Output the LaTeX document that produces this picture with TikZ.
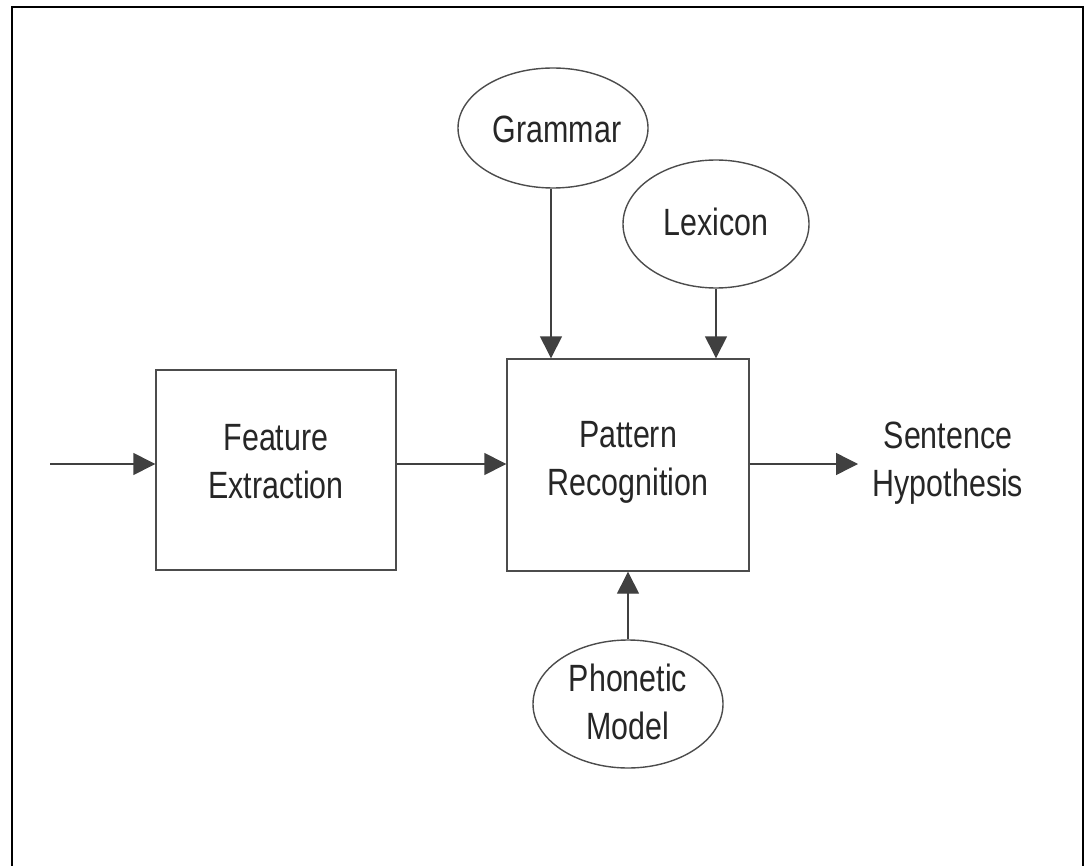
\documentclass[tikz,border=0pt]{standalone}
\usepackage{fontspec}
\setmainfont[FakeStretch=0.8]{Liberation Sans}
\usetikzlibrary{arrows.meta,shapes.geometric}
\begin{document}
\begin{tikzpicture}[x=1pt,y=-1pt,
  lbl/.style={text=black!85, font=\fontsize{38}{48}\selectfont, align=center},
  blk/.style={draw=black!70, line width=1.4pt, rectangle, inner sep=0pt},
  oval/.style={draw=black!70, line width=1.4pt, ellipse, inner sep=0pt},
  conn/.style={draw=black!75, line width=1.4pt, -{Triangle[length=22pt,width=22pt]}}
]
\useasboundingbox (0,0) rectangle (1091,866);
\draw[line width=2.6pt] (12,866) -- (12,7) -- (1083,7) -- (1083,866);

\node[blk, minimum width=240pt, minimum height=200pt] (fe) at (276,470) {};
\node[lbl] at (276,462) {Feature\\Extraction};
\node[blk, minimum width=242pt, minimum height=212pt] (pr) at (628,465) {};
\node[lbl] at (628,462) {Pattern\\Recognition};
\node[oval, minimum width=190pt, minimum height=120pt] (gr) at (553,128) {};
\node[lbl] at (557,129) {Grammar};
\node[oval, minimum width=186pt, minimum height=128pt] (lx) at (716,224) {};
\node[lbl] at (716,222) {Lexicon};
\node[oval, minimum width=190pt, minimum height=128pt] (ph) at (628,704) {};
\node[lbl] at (628,702) {Phonetic\\Model};
\node[lbl] (sh) at (948,463) {Sentence\\Hypothesis};

\coordinate (in) at (50,464);
\coordinate (out) at (858,464);
\draw[conn] (in) -- (fe.west |- in);
\draw[conn] (fe.east |- in) -- (pr.west |- in);
\draw[conn] (pr.east |- out) -- (out);
\draw[conn] (551,0 |- gr.south) -- (551,0 |- pr.north);
\draw[conn] (lx.south) -- (lx.south |- pr.north);
\draw[conn] (ph.north) -- (ph.north |- pr.south);
\end{tikzpicture}
\end{document}
